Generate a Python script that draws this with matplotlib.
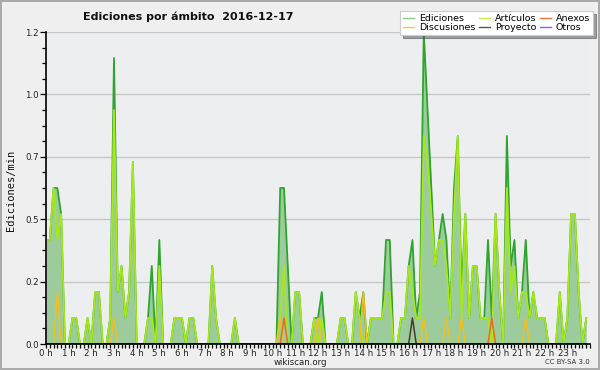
import numpy as np
import matplotlib
matplotlib.use("Agg")
import matplotlib.pyplot as plt
from matplotlib.ticker import FixedLocator, MultipleLocator, FuncFormatter
from matplotlib.lines import Line2D

# ---- data (edits per minute, 10-minute bins, 6 per hour) ----
ediciones = [
    0.4, 0.4, 0.6, 0.6, 0.5, 0.0,   # 0 h
    0.0, 0.1, 0.1, 0.0, 0.0, 0.1,   # 1 h
    0.0, 0.2, 0.2, 0.0, 0.0, 0.1,   # 2 h
    1.1, 0.2, 0.3, 0.1, 0.2, 0.7,   # 3 h
    0.0, 0.0, 0.0, 0.1, 0.3, 0.0,   # 4 h
    0.4, 0.0, 0.0, 0.0, 0.1, 0.1,   # 5 h
    0.1, 0.0, 0.1, 0.1, 0.0, 0.0,   # 6 h
    0.0, 0.0, 0.3, 0.1, 0.0, 0.0,   # 7 h
    0.0, 0.0, 0.1, 0.0, 0.0, 0.0,   # 8 h
    0.0, 0.0, 0.0, 0.0, 0.0, 0.0,   # 9 h
    0.0, 0.0, 0.6, 0.6, 0.3, 0.0,   # 10 h
    0.2, 0.2, 0.0, 0.0, 0.0, 0.1,   # 11 h
    0.1, 0.2, 0.0, 0.0, 0.0, 0.0,   # 12 h
    0.1, 0.1, 0.0, 0.0, 0.2, 0.1,   # 13 h
    0.2, 0.0, 0.1, 0.1, 0.1, 0.1,   # 14 h
    0.4, 0.4, 0.0, 0.0, 0.1, 0.1,   # 15 h
    0.3, 0.4, 0.1, 0.2, 1.2, 0.9,   # 16 h
    0.6, 0.3, 0.4, 0.5, 0.4, 0.1,   # 17 h
    0.6, 0.8, 0.2, 0.5, 0.1, 0.3,   # 18 h
    0.3, 0.1, 0.1, 0.4, 0.1, 0.5,   # 19 h
    0.2, 0.0, 0.8, 0.3, 0.4, 0.1,   # 20 h
    0.2, 0.4, 0.1, 0.2, 0.1, 0.1,   # 21 h
    0.1, 0.0, 0.0, 0.0, 0.2, 0.0,   # 22 h
    0.1, 0.5, 0.5, 0.2, 0.0, 0.1,   # 23 h
]
articulos = [
    0.4, 0.4, 0.6, 0.4, 0.5, 0.0,
    0.0, 0.1, 0.1, 0.0, 0.0, 0.1,
    0.0, 0.2, 0.2, 0.0, 0.0, 0.1,
    0.9, 0.2, 0.3, 0.1, 0.2, 0.7,
    0.0, 0.0, 0.0, 0.1, 0.1, 0.0,
    0.3, 0.0, 0.0, 0.0, 0.1, 0.1,
    0.1, 0.0, 0.1, 0.1, 0.0, 0.0,
    0.0, 0.0, 0.3, 0.1, 0.0, 0.0,
    0.0, 0.0, 0.1, 0.0, 0.0, 0.0,
    0.0, 0.0, 0.0, 0.0, 0.0, 0.0,
    0.0, 0.0, 0.1, 0.3, 0.0, 0.0,
    0.2, 0.2, 0.0, 0.0, 0.0, 0.1,
    0.0, 0.1, 0.0, 0.0, 0.0, 0.0,
    0.1, 0.1, 0.0, 0.0, 0.2, 0.1,
    0.0, 0.0, 0.1, 0.1, 0.1, 0.1,
    0.2, 0.2, 0.0, 0.0, 0.1, 0.1,
    0.3, 0.2, 0.1, 0.1, 0.8, 0.7,
    0.5, 0.3, 0.4, 0.4, 0.3, 0.1,
    0.5, 0.8, 0.1, 0.5, 0.1, 0.3,
    0.3, 0.1, 0.1, 0.1, 0.0, 0.5,
    0.2, 0.0, 0.6, 0.2, 0.3, 0.1,
    0.2, 0.2, 0.1, 0.2, 0.1, 0.1,
    0.1, 0.0, 0.0, 0.0, 0.2, 0.0,
    0.1, 0.5, 0.5, 0.2, 0.0, 0.1,
]
discusiones = [
    0.0, 0.0, 0.0, 0.2, 0.0, 0.0,
    0.0, 0.0, 0.0, 0.0, 0.0, 0.0,
    0.0, 0.0, 0.0, 0.0, 0.0, 0.0,
    0.1, 0.0, 0.0, 0.0, 0.0, 0.0,
    0.0, 0.0, 0.0, 0.0, 0.0, 0.0,
    0.0, 0.0, 0.0, 0.0, 0.0, 0.0,
    0.0, 0.0, 0.0, 0.0, 0.0, 0.0,
    0.0, 0.0, 0.0, 0.0, 0.0, 0.0,
    0.0, 0.0, 0.0, 0.0, 0.0, 0.0,
    0.0, 0.0, 0.0, 0.0, 0.0, 0.0,
    0.0, 0.0, 0.1, 0.0, 0.0, 0.0,
    0.0, 0.0, 0.0, 0.0, 0.0, 0.0,
    0.1, 0.0, 0.0, 0.0, 0.0, 0.0,
    0.0, 0.0, 0.0, 0.0, 0.0, 0.0,
    0.2, 0.0, 0.0, 0.0, 0.0, 0.0,
    0.0, 0.0, 0.0, 0.0, 0.0, 0.0,
    0.0, 0.0, 0.0, 0.0, 0.1, 0.0,
    0.0, 0.0, 0.0, 0.0, 0.1, 0.0,
    0.0, 0.0, 0.1, 0.0, 0.0, 0.0,
    0.0, 0.0, 0.0, 0.0, 0.0, 0.0,
    0.0, 0.0, 0.0, 0.0, 0.0, 0.0,
    0.0, 0.1, 0.0, 0.0, 0.0, 0.0,
    0.0, 0.0, 0.0, 0.0, 0.0, 0.0,
    0.0, 0.0, 0.0, 0.0, 0.0, 0.0,
]
anexos = [0.0] * 144
anexos[63] = 0.1
anexos[118] = 0.1
proyecto = [0.0] * 144
proyecto[97] = 0.1
otros = [0.0] * 144

hour_labels = [f"{h} h" for h in range(24)]
ytick_values = [0.0, 0.24, 0.48, 0.72, 0.96, 1.2]

hours = np.arange(len(ediciones)) / 6.0

# ---- figure ----
fig = plt.figure(figsize=(6, 3.7), dpi=100)
fig.patch.set_facecolor('#efefef')
fig.patch.set_edgecolor('#aaaaaa')
fig.patch.set_linewidth(1.5)

ax = fig.add_axes([46/600, 1-344/370, (590-46)/600, (344-32)/370])
ax.set_facecolor('#edeef0')

ax.fill_between(hours, ediciones, 0, color='#9ccb9c', lw=0, zorder=2)
ax.plot(hours, ediciones, color='#2ea52e', lw=1.3, zorder=3, label='Ediciones')
ax.plot(hours, articulos, color='#a6e81a', lw=1.3, zorder=4, label='Artículos')
ax.plot(hours, discusiones, color='#f2c01e', lw=1.1, zorder=5, label='Discusiones')
ax.plot(hours, anexos, color='#ee6a22', lw=1.1, zorder=6, label='Anexos')
ax.plot(hours, proyecto, color='#4a3a2a', lw=1.1, zorder=7, label='Proyecto')
ax.plot(hours, otros, color='#9a4af0', lw=1.1, zorder=1, label='Otros', alpha=0)

ax.set_xlim(0, 24)
ax.set_ylim(0, 1.2)
ax.xaxis.set_major_locator(FixedLocator(range(24)))
ax.set_xticklabels(hour_labels)
ax.xaxis.set_minor_locator(MultipleLocator(1/6))
ax.yaxis.set_major_locator(FixedLocator(ytick_values))
ax.yaxis.set_major_formatter(FuncFormatter(lambda v, p: f"{v:.1f}"))
ax.yaxis.set_minor_locator(MultipleLocator(0.06))

ax.grid(axis='y', color='#c8c8c8', lw=1.0, zorder=0)
ax.set_axisbelow(True)
for s in ['top', 'right']:
    ax.spines[s].set_visible(False)
for s in ['left', 'bottom']:
    ax.spines[s].set_color('black')
    ax.spines[s].set_linewidth(1.2)
    ax.spines[s].set_zorder(10)

ax.tick_params(axis='both', which='major', labelsize=6.2, labelcolor='#222222',
               length=4, width=0.9, pad=1.0, direction='out')
ax.tick_params(axis='both', which='minor', length=3, width=0.9, direction='out')
ax.tick_params(axis='x', which='major', length=3, pad=0.5)

fig.text(188/600, 1-17/370, "Ediciones por ámbito  2016-12-17", ha='center', va='center',
         fontsize=8, fontweight='bold', color='#111111')
fig.text(11/600, 1-190/370, "Ediciones/min", rotation=90, ha='center', va='center',
         fontsize=7.5, family='DejaVu Sans Mono', color='#111111')
fig.text(300/600, 1-362.5/370, "wikiscan.org", ha='center', va='center', fontsize=6.2,
         color='#222222')
fig.text(590/600, 1-362.5/370, "CC BY-SA 3.0", ha='right', va='center', fontsize=5,
         color='#333333')

order = ['Ediciones', 'Discusiones', 'Artículos', 'Proyecto', 'Anexos', 'Otros']
legcolors = {'Ediciones': '#88cc88', 'Artículos': '#c8ee55', 'Anexos': '#ee7744',
             'Discusiones': '#f2cc33', 'Proyecto': '#555555', 'Otros': '#9955ee'}
hs = [Line2D([], [], color=legcolors[n], lw=1.0) for n in order]
leg = fig.legend(hs, order, loc='upper right', bbox_to_anchor=(593/600, 1-11/370),
                 ncol=3, fontsize=6.8, frameon=True, fancybox=False, shadow=True,
                 handlelength=1.2, handletextpad=0.5, columnspacing=0.35,
                 labelspacing=0.05, borderpad=0.3, borderaxespad=0)
leg.get_frame().set_facecolor('white')
leg.get_frame().set_edgecolor('#cccccc')
leg.get_frame().set_linewidth(0.8)

fig.savefig('out.png', dpi=100, facecolor=fig.get_facecolor(), edgecolor=fig.get_edgecolor())
